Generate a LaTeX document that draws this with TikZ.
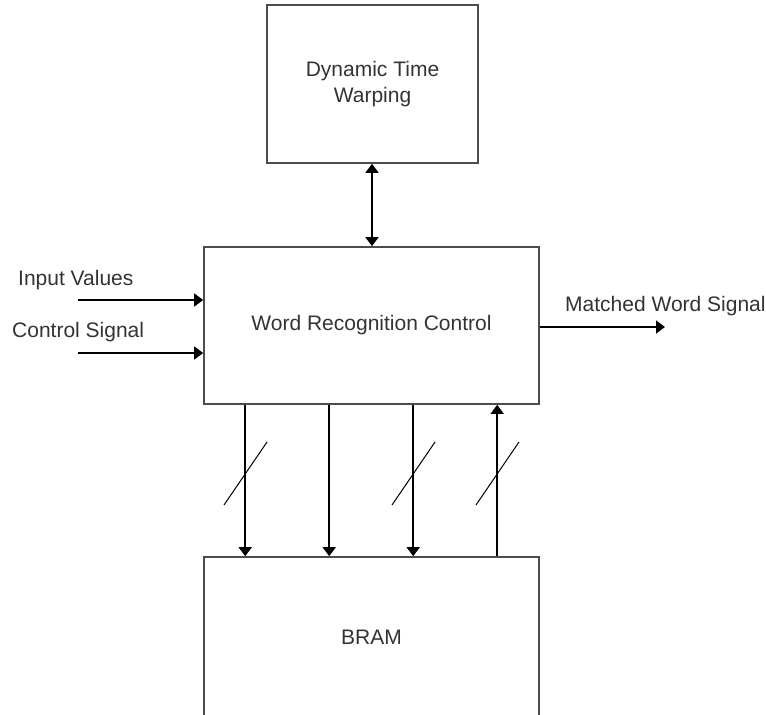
\documentclass[tikz,border=0pt]{standalone}
\usepackage{fontspec}
\setmainfont{Liberation Sans}
\usetikzlibrary{arrows.meta}
\begin{document}
\begin{tikzpicture}[x=1pt,y=-1pt,
  txt/.style={font=\fontsize{21}{28}\selectfont, text=black!80},
  box/.style={draw=black!70, line width=1.6pt, rectangle, inner sep=0pt,
              align=center, txt},
  lbl/.style={txt, inner sep=0pt},
  conn/.style={line width=1.6pt, -{Triangle[length=9pt,width=13pt]}},
  bus/.style={line width=1pt}]
  \useasboundingbox (0,0) rectangle (766,715);
  \clip (0,0) rectangle (766,715);

  % blocks
  \node[box, minimum width=211pt, minimum height=158pt] (dtw) at (372.5,84)
    {\raisebox{-2pt}{Dynamic Time}\\Warping};
  \node[box, minimum width=335pt, minimum height=157pt] (wrc) at (371.5,325.5)
    {\raisebox{1pt}{Word Recognition Control}};
  \node[box, minimum width=335pt, minimum height=166pt] (bram) at (371.5,640)
    {\raisebox{5pt}{BRAM}};

  % DTW <-> control
  \draw[line width=1.6pt, {Triangle[length=9pt,width=13pt]}-{Triangle[length=9pt,width=13pt]}]
    ([xshift=-0.5pt]dtw.south) -- ([xshift=-0.5pt]dtw.south |- wrc.north);

  % external inputs
  \coordinate (in1) at (78,300);
  \coordinate (in2) at (78,353);
  \draw[conn] (in1) -- (in1 -| wrc.west);
  \draw[conn] (in2) -- (in2 -| wrc.west);
  \node[lbl, anchor=base west] (lin1) at (18,285) {Input Values};
  \node[lbl, anchor=base west] (lin2) at (12,337) {Control Signal};

  % output
  \coordinate (out) at (665,327);
  \draw[conn] (out -| wrc.east) -- (out);
  \node[lbl, anchor=base west] (lout) at (565,311) {Matched Word Signal};

  % memory buses
  \foreach \dx in {42,126,210}{
    \draw[conn] ([xshift=\dx pt]wrc.south west) -- ([xshift=\dx pt]bram.north west);
  }
  \draw[conn] ([xshift=294pt]bram.north west) -- ([xshift=294pt]wrc.south west);

  % bus width marks
  \foreach \xx in {246,414,498}{
    \draw[bus] (\xx-22,505) -- (\xx+21,442);
  }
\end{tikzpicture}
\end{document}
